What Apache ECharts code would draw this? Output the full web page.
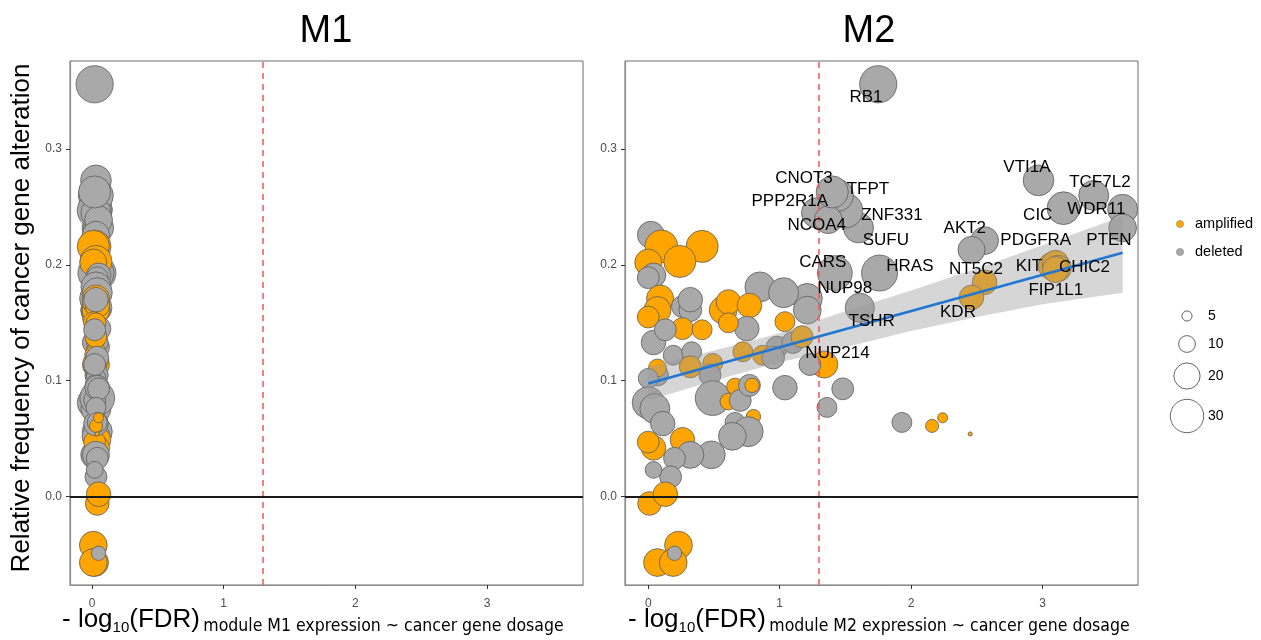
<!DOCTYPE html>
<html><head><meta charset="utf-8">
<script src="https://cdn.jsdelivr.net/npm/echarts@6/dist/echarts.min.js"></script>
<style>html,body{margin:0;padding:0;background:#fff}#c{width:1261px;height:640px}</style>
</head><body><div id="c"></div>
<script>
// ---------------- data ----------------
const geneNames = ['RB1','VTI1A','TCF7L2','CIC','WDR11','PTEN','AKT2','g8','NT5C2','KDR',
 'KIT','PDGFRA','CHIC2','FIP1L1','TSHR','NUP214','CARS','HRAS','NUP98','SUFU',
 'ZNF331','TFPT','PPP2R1A','NCOA4','CNOT3','g26','g27','g28','g29','g30',
 'g31','g32','g33','g34','g35','g36','g37','g38','g39','g40',
 'g41','g42','g43','g44','g45','g46','g47','g48','g49','g50',
 'g51','g52','g53','g54','g55','g56','g57','g58','g59','g60',
 'g61','g62','g63','g64','g65','g66','g67','g68','g69','g70',
 'g71','g72','g73','g74','g75','g76','g77','g78','g79','g80',
 'g81','g82','g83','g84','g85','g86','g87','g88','g89','g90',
 'g91','g92','g93','g94','g95','g96','g97','g98','g99','g100'];
const geneTypes = ['D','D','D','D','D','D','D','D','A','A',
 'A','A','A','A','D','A','D','D','D','D',
 'D','D','D','D','D','D','A','A','A','A',
 'D','D','D','D','D','A','A','A','D','D',
 'A','A','A','A','A','A','D','A','D','D',
 'D','A','A','D','D','D','A','A','D','A',
 'D','D','D','D','A','A','D','D','A','D',
 'A','D','D','D','D','A','A','A','D','D',
 'D','D','D','A','A','A','A','A','D','A',
 'D','D','D','D','D','A','A','A','D','D'];
const altFreq = [0.356,0.273,0.260,0.249,0.248,0.232,0.221,0.213,0.185,0.172,
 0.199,0.201,0.197,0.196,0.163,0.114,0.193,0.193,0.171,0.232,
 0.247,0.260,0.245,0.239,0.263,0.226,0.216,0.216,0.203,0.202,
 0.191,0.189,0.181,0.176,0.161,0.171,0.161,0.155,0.164,0.161,
 0.161,0.168,0.165,0.151,0.145,0.144,0.145,0.150,0.133,0.122,
 0.125,0.112,0.115,0.105,0.129,0.133,0.125,0.122,0.105,0.111,
 0.102,0.081,0.076,0.085,0.095,0.082,0.083,0.096,0.096,0.094,
 0.069,0.064,0.056,0.052,0.036,0.049,0.042,0.047,0.036,0.033,
 0.017,0.023,0.063,-0.006,0.002,-0.042,-0.057,-0.057,-0.049,0.138,
 0.120,0.114,0.093,0.077,0.064,0.061,0.068,0.054,0.170,0.144];
const geneCount = [36,26,25,29,25,22,22,21,18,18,
 21,21,20,20,24,21,32,34,25,25,
 32,28,25,22,28,21,29,28,28,21,
 18,15,25,25,22,21,21,15,15,16,
 22,18,18,13,15,13,18,13,18,13,
 13,15,13,15,15,15,13,13,15,11,
 13,28,25,32,10,10,15,15,8,18,
 8,13,25,22,22,18,18,15,21,15,
 15,10,18,17,18,22,22,22,8,15,
 16,15,15,13,13,7,5,2,18,15];
const fdrM1 = [0.02,0.03,0.01,0.02,0.04,0.03,0.02,0.03,0.04,0.03,
 0.02,0.04,0.03,0.05,0.04,0.03,0.05,0.03,0.02,0.05,
 0.02,0.04,0.03,0.05,0.02,0.03,0.02,0.01,0.03,0.01,
 0.05,0.04,0.03,0.04,0.02,0.03,0.02,0.01,0.04,0.05,
 0.03,0.02,0.04,0.01,0.03,0.02,0.05,0.03,0.02,0.04,
 0.03,0.02,0.04,0.03,0.05,0.04,0.03,0.02,0.04,0.02,
 0.03,0.01,0.03,0.04,0.05,0.04,0.02,0.03,0.05,0.04,
 0.03,0.02,0.04,0.03,0.02,0.05,0.04,0.02,0.03,0.04,
 0.03,0.02,0.03,0.04,0.05,0.01,0.02,0.01,0.05,0.03,
 0.04,0.02,0.05,0.03,0.04,0.03,0.05,0.04,0.03,0.02];
const fdrM2 = [1.75,2.97,3.39,3.16,3.61,3.61,2.56,2.46,2.56,2.46,
 3.07,3.10,3.12,3.10,1.61,1.34,1.42,1.76,1.21,1.60,
 1.50,1.44,1.28,1.37,1.40,0.02,0.10,0.41,0.24,0.00,
 0.04,0.00,0.85,1.03,1.21,0.09,0.07,0.00,0.26,0.32,
 0.57,0.61,0.77,1.04,0.26,0.41,0.75,0.61,0.04,0.19,
 0.33,0.32,0.49,0.47,0.98,1.10,0.72,0.87,0.07,0.07,
 0.00,0.00,0.05,0.49,0.66,0.61,0.70,0.77,0.79,1.04,
 0.80,0.66,0.76,0.64,0.48,0.26,0.04,0.00,0.32,0.20,
 0.17,0.04,0.11,0.01,0.13,0.23,0.07,0.19,0.20,1.17,
 0.95,1.23,1.48,1.36,1.93,2.16,2.24,2.45,0.32,0.13];

const labelNames = ['RB1','CNOT3','TFPT','PPP2R1A','ZNF331','NCOA4','SUFU','CARS','HRAS','NUP98','TSHR','NUP214',
 'VTI1A','TCF7L2','CIC','WDR11','AKT2','PDGFRA','PTEN','NT5C2','KIT','CHIC2','FIP1L1','KDR'];
const labelX = [1.657,1.185,1.672,1.077,1.854,1.282,1.808,1.328,1.991,1.496,1.70,1.44,
 2.882,3.437,2.964,3.41,2.409,2.949,3.506,2.494,2.897,3.32,3.102,2.357];
const labelY = [0.345,0.275,0.265,0.255,0.243,0.234,0.221,0.202,0.199,0.180,0.151,0.124,
 0.284,0.271,0.243,0.248,0.232,0.221,0.221,0.196,0.199,0.198,0.178,0.159];

const fitX = [0.0, 3.61];
const fitY = [0.0977, 0.2105];
const bandX = [0.0, 0.5, 1.0, 1.5, 2.0, 2.5, 3.0, 3.61];
const bandLower = [0.083, 0.100, 0.116, 0.129, 0.143, 0.155, 0.166, 0.176];
const bandUpper = [0.112, 0.126, 0.141, 0.160, 0.178, 0.197, 0.217, 0.242];

const xTicks = [0, 1, 2, 3];
const yTicks = [0, 0.1, 0.2, 0.3];
const fdrThreshold = 1.3;
const typeNames = ['amplified', 'deleted'];
const sizeLegendValues = [5, 10, 20, 30];
const panelTitles = ['M1', 'M2'];

// ---------------- chart ----------------
const FONT = "'Liberation Sans', Arial, Helvetica, sans-serif";
const NARROW = "'Liberation Sans Narrow', 'DejaVu Sans Condensed', 'Liberation Sans', sans-serif";
const COL = { A: '#FFA500', D: '#A9A9A9' };
const sizeOf = n => 7.2 * Math.sqrt(n) - 6;

const chart = echarts.init(document.getElementById('c'), null, { renderer: 'canvas' });

const grids = [
  { left: 70, top: 61, width: 513, height: 524 },
  { left: 625, top: 61, width: 513, height: 524 }
];
const xRanges = [[-0.167, 3.728], [-0.177, 3.727]];

function xAxisCfg(i) {
  return {
    type: 'value', gridIndex: i, min: xRanges[i][0], max: xRanges[i][1],
    axisLine: { show: true, onZero: false, lineStyle: { color: '#8c8c8c', width: 1.2 } },
    axisTick: { show: true, customValues: xTicks, length: 4, lineStyle: { color: '#333', width: 1 } },
    axisLabel: { customValues: xTicks, fontSize: 12, color: '#4d4d4d', margin: 13, fontFamily: FONT },
    splitLine: { show: false }
  };
}
function yAxisCfg(i) {
  return {
    type: 'value', gridIndex: i, min: -0.0764, max: 0.3761,
    axisLine: { show: true, onZero: false, lineStyle: { color: '#8c8c8c', width: 1.2 } },
    axisTick: { show: true, customValues: yTicks, length: 4, lineStyle: { color: '#333', width: 1 } },
    axisLabel: { customValues: yTicks, fontSize: 12, color: '#4d4d4d', margin: 8, fontFamily: FONT,
      formatter: v => v.toFixed(1) },
    splitLine: { show: false }
  };
}

function refSeries(i) {
  return {
    type: 'scatter', xAxisIndex: i, yAxisIndex: i, data: [], silent: true, z: 1,
    markLine: {
      silent: true, symbol: 'none', label: { show: false }, animation: false,
      data: [
        { xAxis: fdrThreshold, lineStyle: { color: '#f25555', type: [6, 5], width: 1.5, opacity: 1 } },
        { yAxis: 0, lineStyle: { color: '#1a1a1a', type: 'solid', width: 2, opacity: 1 } }
      ]
    }
  };
}
function pointSeries(i, xs) {
  return {
    type: 'scatter', xAxisIndex: i, yAxisIndex: i, z: 2, silent: true,
    symbolSize: v => sizeOf(v[2]),
    data: geneNames.map((g, k) => ({
      name: g, value: [xs[k], altFreq[k], geneCount[k]],
      itemStyle: { color: COL[geneTypes[k]], borderColor: '#5c5c5c', borderWidth: 0.8, opacity: 1 }
    }))
  };
}

const series = [
  refSeries(0), refSeries(1),
  pointSeries(0, fdrM1), pointSeries(1, fdrM2),
  {
    type: 'custom', xAxisIndex: 1, yAxisIndex: 1, z: 3, silent: true,
    data: [[0, 0]],
    renderItem: (params, api) => {
      const pts = bandX.map((x, k) => api.coord([x, bandUpper[k]]));
      for (let k = bandX.length - 1; k >= 0; k--) pts.push(api.coord([bandX[k], bandLower[k]]));
      return { type: 'polygon', shape: { points: pts }, style: { fill: 'rgba(153,153,153,0.4)' } };
    }
  },
  {
    type: 'line', xAxisIndex: 1, yAxisIndex: 1, z: 4, silent: true, symbol: 'none',
    data: fitX.map((x, k) => [x, fitY[k]]),
    lineStyle: { color: '#1f77d3', width: 2.6, opacity: 1 }
  },
  {
    type: 'scatter', xAxisIndex: 1, yAxisIndex: 1, z: 5, silent: true, symbolSize: 1,
    itemStyle: { color: 'transparent', opacity: 1 },
    data: labelNames.map((n, k) => ({ name: n, value: [labelX[k], labelY[k]] })),
    label: { show: true, position: 'inside', formatter: '{b}', fontSize: 17, color: '#000', fontFamily: FONT, opacity: 1 },
    labelLayout: { hideOverlap: false }
  }
];

const graphic = [];
panelTitles.forEach((t, i) => {
  graphic.push({ type: 'text', x: [326, 869][i], y: 32,
    style: { text: t, font: '38px ' + FONT, fill: '#000', align: 'center', verticalAlign: 'middle' } });
});
graphic.push({ type: 'text', x: 22, y: 318, rotation: Math.PI / 2,
  style: { text: 'Relative frequency of cancer gene alteration', font: '26px ' + FONT, fill: '#000',
    align: 'center', verticalAlign: 'middle' } });
panelTitles.forEach((t, i) => {
  graphic.push({ type: 'text', x: [62, 628][i], y: 607,
    style: {
      text: '{a|- log}{s|10}{a|(FDR)} {b|module ' + t + ' expression ~ cancer gene dosage}',
      fill: '#000',
      rich: {
        a: { fontSize: 26, lineHeight: 28, fontFamily: FONT, verticalAlign: 'top' },
        s: { fontSize: 15, lineHeight: 15, fontFamily: FONT, verticalAlign: 'bottom' },
        b: { fontSize: 17.5, lineHeight: 15, fontFamily: NARROW, verticalAlign: 'bottom' }
      }
    } });
});
typeNames.forEach((t, i) => {
  const y = [224, 252][i];
  graphic.push({ type: 'circle', shape: { cx: 1180, cy: y, r: 3.6 },
    style: { fill: i === 0 ? COL.A : COL.D, stroke: '#888', lineWidth: 0.6 } });
  graphic.push({ type: 'text', x: 1195, y: y,
    style: { text: t, font: '14.5px ' + FONT, fill: '#000', verticalAlign: 'middle' } });
});
sizeLegendValues.forEach((v, i) => {
  const y = [316, 344, 376, 416][i];
  graphic.push({ type: 'circle', shape: { cx: 1187, cy: y, r: sizeOf(v) / 2 },
    style: { fill: 'none', stroke: '#666', lineWidth: 1 } });
  graphic.push({ type: 'text', x: 1208, y: y,
    style: { text: String(v), font: '14px ' + FONT, fill: '#000', verticalAlign: 'middle' } });
});

chart.setOption({
  animation: false,
  backgroundColor: '#fff',
  grid: grids.map(g => Object.assign({ show: true, borderColor: '#6e6e6e', borderWidth: 1, backgroundColor: 'transparent' }, g)),
  xAxis: [xAxisCfg(0), xAxisCfg(1)],
  yAxis: [yAxisCfg(0), yAxisCfg(1)],
  series: series,
  graphic: graphic
});
</script>
</body></html>
